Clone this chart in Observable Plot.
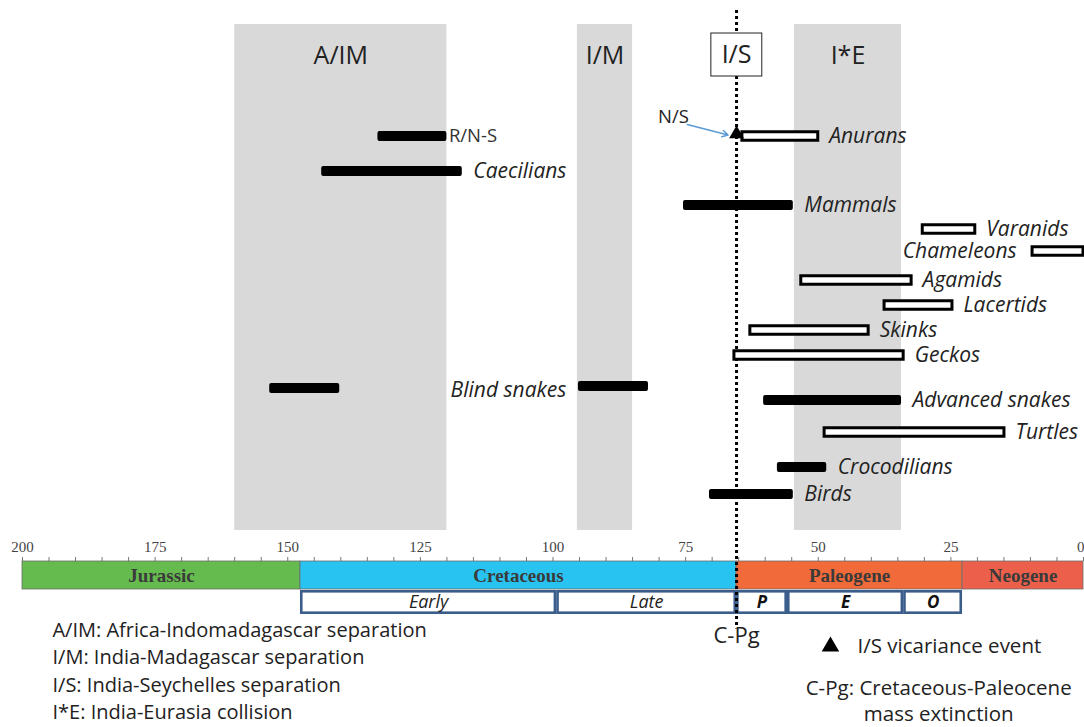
<!DOCTYPE html>
<html>
<head>
<meta charset="utf-8">
<script src="https://cdn.jsdelivr.net/npm/d3@7"></script>
<script src="https://cdn.jsdelivr.net/npm/@observablehq/plot@0.6"></script>
<style>
  html, body { margin: 0; padding: 0; background: #fff; }
  #chart svg { display: block; }
</style>
</head>
<body>
<div id="chart"></div>
<script>
// ---------- DATA (ages in Ma; rows are vertical lanes) ----------
const taxa     = ["R/N-S","Caecilians","Anurans","Mammals","Varanids","Chameleons","Agamids","Lacertids","Skinks","Geckos","Blind snakes","Blind snakes","Advanced snakes","Turtles","Crocodilians","Birds"];
const taxStart = [133, 143.6, 64.3, 75.4, 30.3, 9.6, 53.2, 37.5, 62.8, 65.8, 153.4, 95.2, 60.3, 48.8, 57.7, 70.5];
const taxEnd   = [120, 117.1, 50.0, 54.7, 20.4, 0.0, 32.4, 24.7, 40.5, 33.9, 140.2, 82.0, 34.3, 14.9, 48.4, 54.7];
const taxRow   = [0, 1.4, 0, 2.76, 3.72, 4.6, 5.76, 6.76, 7.76, 8.76, 10.08, 10.0, 10.56, 11.84, 13.24, 14.32];
const taxOpen  = [false, false, true, false, true, true, true, true, true, true, false, false, false, true, false, false];

const labelText = ["R/N-S","Caecilians","Anurans","Mammals","Varanids","Chameleons","Agamids","Lacertids","Skinks","Geckos","Blind snakes","Advanced snakes","Turtles","Crocodilians","Birds"];
const labelAge  = [120, 117.1, 50.0, 54.7, 20.4, 9.6, 32.4, 24.7, 40.5, 33.9, 108.4, 34.3, 14.9, 48.4, 54.7];
const labelRow  = [0, 1.4, 0, 2.76, 3.72, 4.6, 5.76, 6.76, 7.76, 8.76, 10.16, 10.56, 11.84, 13.24, 14.32];
const labelSide = ["right","right","right","right","right","left","right","right","right","right","center","right","right","right","right"];

const eventNames = ["A/IM","I/M","I*E"];
const eventStart = [160, 95.4, 54.5];
const eventEnd   = [120, 85.0, 34.3];
const isAge = 65.4;            // I/S separation and C-Pg boundary
const nsLabel = "N/S";

const periods     = ["Jurassic","Cretaceous","Paleogene","Neogene"];
const periodStart = [200, 147.6, 65.4, 22.8];
const periodEnd   = [147.6, 65.4, 22.8, 0];

const epochs     = ["Early","Late","P","E","O"];
const epochStart = [147.6, 99.3, 65.4, 55.8, 33.9];
const epochEnd   = [99.3, 65.4, 55.8, 33.9, 22.8];

const tickLabels = [200, 175, 150, 125, 100, 75, 50, 25, 0];

const legendLeft = [
  "A/IM: Africa-Indomadagascar separation",
  "I/M: India-Madagascar separation",
  "I/S: India-Seychelles separation",
  "I*E: India-Eurasia collision"
];
const legendRight = ["I/S vicariance event", "C-Pg: Cretaceous-Paleocene", "mass extinction"];

// ---------- tables ----------
const bars = taxa.map((t, i) => ({taxon: t, start: taxStart[i], end: taxEnd[i], row: taxRow[i], open: taxOpen[i]}));
const labels = labelText.map((t, i) => ({text: t, age: labelAge[i], row: labelRow[i], side: labelSide[i]}));
const events = eventNames.map((n, i) => ({name: n, start: eventStart[i], end: eventEnd[i], mid: (eventStart[i] + eventEnd[i]) / 2}));
const periodColors = ["#66bb4f", "#29c3f1", "#f16a39", "#ec604b"];
const periodRows = periods.map((p, i) => ({name: p, start: periodStart[i], end: periodEnd[i], mid: (periodStart[i] + periodEnd[i]) / 2, color: periodColors[i]}));
const epochRows = epochs.map((e, i) => ({name: e, start: epochStart[i], end: epochEnd[i], mid: (epochStart[i] + epochEnd[i]) / 2, bold: e.length === 1}));
const minorTicks = d3.range(0, 201, 5);

const SANS = "'Open Sans', sans-serif";
const SERIF = "'Liberation Serif', 'Times New Roman', serif";

const chart = Plot.plot({
  width: 1084,
  height: 727,
  margin: 0,
  style: {background: "#fff", overflow: "hidden"},
  x: {domain: [200, 0], range: [22, 1083], axis: null},
  y: {domain: [-5.44, 23.64], range: [0, 727], axis: null},
  marks: [
    // grey event bands
    Plot.rect(events, {x1: "start", x2: "end", y1: -4.48, y2: 15.76, fill: "#d9d9d9"}),
    Plot.text(events, {x: "mid", y: -3.24, text: "name", fontFamily: SANS, fontSize: 25, fill: "#222"}),

    // minor ticks + tick labels
    Plot.ruleX(minorTicks, {x: d => d, y1: 16.84, y2: 17.0, stroke: "#777", strokeWidth: 1}),
    Plot.text(tickLabels.filter(d => d !== 0), {x: d => d, y: 16.44, text: d => String(d), fontFamily: SERIF, fontSize: 15, fill: "#444"}),
    Plot.text(tickLabels.filter(d => d === 0), {x: d => d, y: 16.44, text: d => String(d), textAnchor: "end", dx: 1, fontFamily: SERIF, fontSize: 15, fill: "#444"}),

    // periods
    Plot.rect(periodRows, {x1: "start", x2: "end", y1: 17.0, y2: 18.12, fill: "color", stroke: "#6d6d6d", strokeWidth: 0.8}),
    Plot.text(periodRows, {x: "mid", y: 17.56, text: "name", fontFamily: SERIF, fontWeight: "bold", fontSize: 19, fill: "#3a3a3a"}),

    // epochs
    Plot.rect(epochRows, {x1: "start", x2: "end", y1: 18.16, y2: 19.12, fill: "#fff", stroke: "#3b5d8c", strokeWidth: 2.6, inset: 1.3}),
    Plot.text(epochRows.filter(d => !d.bold), {x: "mid", y: 18.64, text: "name", fontFamily: SANS, fontStyle: "italic", fontSize: 18, fill: "#222"}),
    Plot.text(epochRows.filter(d => d.bold), {x: "mid", y: 18.64, text: "name", fontFamily: SANS, fontStyle: "italic", fontWeight: "bold", fontSize: 17, fill: "#111"}),

    // I/S dotted line
    Plot.ruleX([isAge], {y1: -5.04, y2: 19.7, stroke: "#000", strokeWidth: 3, strokeDasharray: "3,3"}),
    // I/S boxed label
    Plot.rect([isAge], {x1: d => d + 4.75, x2: d => d - 4.85, y1: -4.12, y2: -2.4, fill: "#fff", stroke: "#222", strokeWidth: 1}),
    Plot.text([isAge], {x: d => d, y: -3.26, text: () => "I/S", fontFamily: SANS, fontSize: 25, fill: "#222"}),

    // divergence bars
    Plot.rect(bars.filter(d => !d.open), {x1: "start", x2: "end", y1: d => d.row - 0.2, y2: d => d.row + 0.2, fill: "#000", rx: 2}),
    Plot.rect(bars.filter(d => d.open), {x1: "start", x2: "end", y1: d => d.row - 0.17, y2: d => d.row + 0.17, fill: "#fff", stroke: "#000", strokeWidth: 3}),

    // taxon labels
    Plot.text(labels.filter(d => d.side === "right" && d.text !== "R/N-S"), {x: "age", y: "row", text: "text", textAnchor: "start", dx: 11, fontFamily: SANS, fontStyle: "italic", fontSize: 21, fill: "#222"}),
    Plot.text(labels.filter(d => d.text === "R/N-S"), {x: "age", y: "row", text: "text", textAnchor: "start", dx: 2, fontFamily: SANS, fontSize: 18.5, fill: "#333"}),
    Plot.text(labels.filter(d => d.side === "left"), {x: "age", y: "row", text: "text", textAnchor: "end", dx: -16, fontFamily: SANS, fontStyle: "italic", fontSize: 21, fill: "#222"}),
    Plot.text(labels.filter(d => d.side === "center"), {x: "age", y: "row", text: "text", textAnchor: "middle", fontFamily: SANS, fontStyle: "italic", fontSize: 21, fill: "#222"}),

    // N/S vicariance marker
    Plot.dot([isAge], {x: d => d, y: -0.1, symbol: "triangle", r: 5.5, fill: "#000"}),
    Plot.arrow([isAge], {x1: d => d + 9.3, y1: -0.48, x2: d => d + 1.6, y2: -0.06, stroke: "#5b9bd5", strokeWidth: 1.4, headLength: 7}),
    Plot.text([nsLabel], {x: isAge + 11.9, y: -0.76, text: d => d, fontFamily: SANS, fontSize: 18.5, fill: "#222"}),

    // C-Pg label
    Plot.text(["C-Pg"], {x: isAge, y: 19.96, text: d => d, fontFamily: SANS, fontSize: 22, fill: "#222"}),

    // legends
    Plot.text(legendLeft, {x: 194.35, y: (d, i) => 19.76 + i * 1.1, text: d => d, textAnchor: "start", fontFamily: SANS, fontSize: 20, fill: "#222"}),
    Plot.dot([legendRight[0]], {x: 47.7, y: 20.4, symbol: "triangle", r: 6.5, fill: "#000"}),
    Plot.text([legendRight[0]], {x: 42.6, y: 20.4, text: d => d, textAnchor: "start", fontFamily: SANS, fontSize: 20.5, fill: "#222"}),
    Plot.text(legendRight.slice(1), {x: 27.3, y: (d, i) => 22.06 + i * 1.04, text: d => d, textAnchor: "middle", fontFamily: SANS, fontSize: 20.5, fill: "#222"})
  ]
});
document.getElementById("chart").appendChild(chart);
</script>
</body>
</html>
